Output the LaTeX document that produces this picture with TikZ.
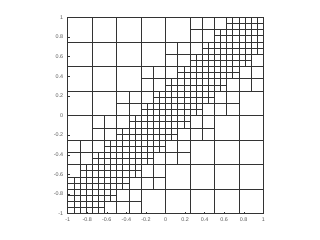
\documentclass[tikz,border=0pt]{standalone}
\usepackage{fontspec}
\setmainfont{Liberation Sans}
\begin{document}
\begin{tikzpicture}[
  gridline/.style={draw=black!80, line width=0.45pt},
  tickline/.style={draw=black!80, line width=0.4pt},
  ticklabel/.style={text=black!65, font=\fontsize{4.6}{5}\selectfont, inner sep=0pt}
]
\useasboundingbox[fill=white] (0,0) rectangle (9.6,7.2);
\begin{scope}[shift={(4.965,3.735)}, x=2.934cm, y=2.946cm]
  \foreach \I in {0,...,7}{
    \foreach \J in {0,...,7}{
      \pgfmathtruncatemacro\d{abs(\I-\J)}
      \ifnum\d>2
        \draw[gridline] ({\I/4-1},{\J/4-1}) rectangle ++(0.25,0.25);
      \else
        \foreach \a in {0,1}{
          \foreach \b in {0,1}{
            \pgfmathtruncatemacro\ii{2*\I+\a}
            \pgfmathtruncatemacro\jj{2*\J+\b}
            \pgfmathtruncatemacro\dd{abs(\ii-\jj)}
            \ifnum\dd>2
              \draw[gridline] ({\ii/8-1},{\jj/8-1}) rectangle ++(0.125,0.125);
            \else
              \draw[gridline] ({\ii/8-1},{\jj/8-1}) grid[step=0.0625] ++(0.125,0.125);
              \draw[gridline] ({\ii/8-1},{\jj/8-1}) rectangle ++(0.125,0.125);
            \fi
          }
        }
      \fi
    }
  }
  % axes
  \coordinate (o) at (-1,-1);
  \coordinate (xe) at (1,-1);
  \coordinate (ye) at (-1,1);
  \draw[tickline] (ye) -- (o) -- (xe);
  \foreach \v/\t [count=\k] in {-1/-1,-0.8/-0.8,-0.6/-0.6,-0.4/-0.4,-0.2/-0.2,0/0,0.2/0.2,0.4/0.4,0.6/0.6,0.8/0.8,1/1}{
    \draw[tickline] (\v,-1) -- ++(0,0.022);
    \node[ticklabel] (xl\k) at (\v,-1.065) {\t};
    \draw[tickline] (-1,\v) -- ++(0.022,0);
    \node[ticklabel, anchor=east] (yl\k) at (-1.045,\v) {\t};
  }
\end{scope}
\end{tikzpicture}
\end{document}
